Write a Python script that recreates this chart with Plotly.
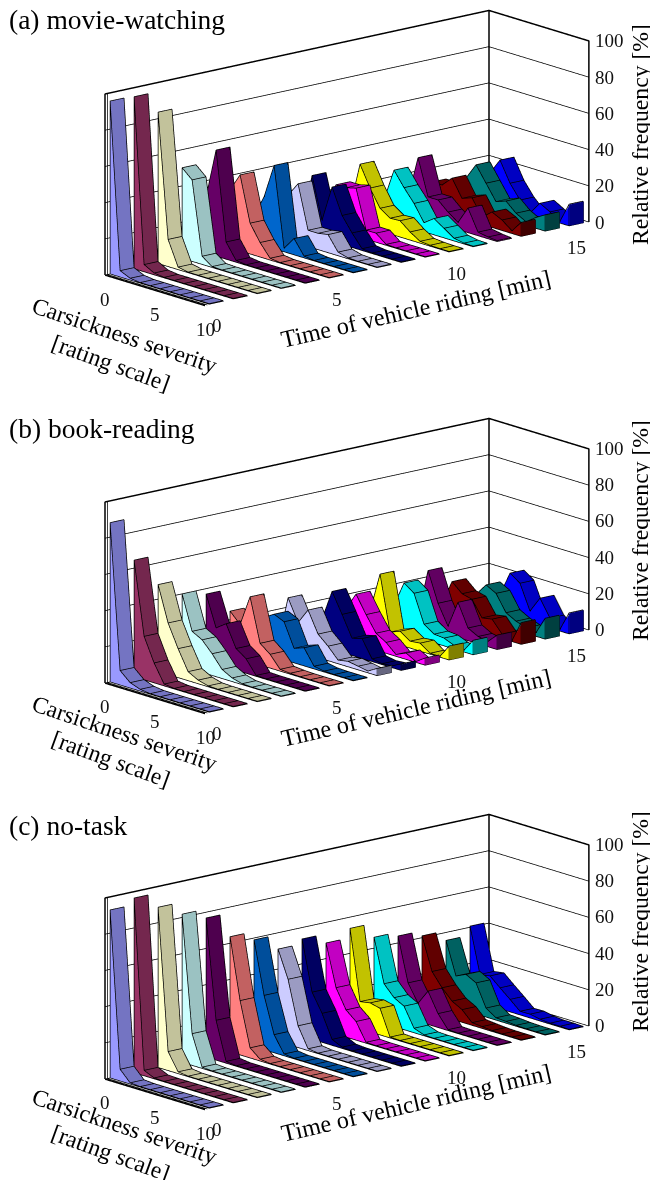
import plotly.graph_objects as go

SEVERITY = list(range(11))
TIME_SLOTS = 16
Z_TICKS = [0, 20, 40, 60, 80, 100]
SEV_TICKS = [0, 5, 10]
TIME_TICKS = [0, 5, 10, 15]
SERIES_COLORS = ["#9999FF", "#993366", "#FFFFCC", "#CCFFFF", "#660066", "#FF8080", "#0066CC", "#CCCCFF",
                 "#000080", "#FF00FF", "#FFFF00", "#00FFFF", "#800080", "#800000", "#008080", "#0000FF"]

MOVIE = [
 [95.5, 3.5, 1, .3, .3, .3, .3, .3, .3, .3, .3],
 [95, 4, 1, .3, .3, .3, .3, .3, .3, .3, .3],
 [83.6, 15, 1.4, .3, .3, .3, .3, .3, .3, .3, .3],
 [50, 45, 4.5, .5, .3, .3, .3, .3, .3, .3, .3],
 [31, 58.6, 9.5, 1, .3, .3, .3, .3, .3, .3, .3],
 [32, 42, 17, 8, 1, .3, .3, .3, .3, .3, .3],
 [15, 27, 46, 2, 9, 1, .3, .3, .3, .3, .3],
 [12, 25, 33, 9, 9, 10, 2, .5, .3, .3, .3],
 [3, 33, 10, 30, 16, 8, 1, .3, .3, .3, .3],
 [12, 25, 25, 26.5, 5, 5, .5, .3, .3, .3, .3],
 [8, 33.5, 22, 12.5, 8.7, 9, 4.5, 1, .5, .3, .3],
 [3, 11, 29, 21, 14, 5, 9, 5.3, 1.5, .5, .3],
 [3, 9, 33, 13, 13, 8, 4, 13.6, 2, 1, .5],
 [1, 15, 15, 20.5, 11, 13, 4, 8.5, 5.8, 1.5, 7.7],
 [.5, 2.5, 16, 25, 16.5, 8, 10, 5, 2, 6, 9],
 [4, 10, 16, 24.7, 13.6, 6, .5, 7.6, 4.5, 1, 12],
]
BOOK = [
 [88, 8, 3, 1, .3, .3, .3, .3, .3, .3, .3],
 [64.4, 24, 11, 1, .3, .3, .3, .3, .3, .3, .3],
 [48, 28.5, 16, 5, 2, .5, .3, .3, .3, .3, .3],
 [40, 21, 18, 12, 5, 2, .5, .3, .3, .3, .3],
 [37, 20, 24, 12, 8, .5, .3, .3, .3, .3, .3],
 [24.7, 19, 36, 12, 7.6, 1, .5, .3, .3, .3, .3],
 [5, 20, 23.5, 21, 8, 10, 1.5, .5, .3, .3, .3],
 [1, 28, 16, 24.6, 13, 8, 2, 3, 2, 1, 4],
 [1, 5, 15, 32, 21, 9.5, 11, 1.5, .5, 1, 3.6],
 [3, 9, 18, 27.6, 18, 9.4, 6, 1, 3.5, .5, 4],
 [6, 15, 13.6, 35.8, 5.4, 7.6, 3.8, 4.4, .5, .5, 7.7],
 [1, 3, 14, 28, 24, 8.6, 4.8, 4.3, 2, 1, 8],
 [.5, 1, 5, 32, 15.6, 4.6, 19.5, 7, 4, 3, 8],
 [.5, 1.5, 9, 23, 18, 16.6, 8, 9, 2.4, .5, 12],
 [3, 7, 10, 13, 20, 17, 8, 5, 3, 2, 11.5],
 [1, 2, 5, 10, 23.6, 19.7, 6, 14.8, 5.5, 1, 11.6],
]
NOTASK = [
 [92.8, 6.5, .7, .3, .3, .3, .3, .3, .3, .3, .3],
 [96.5, 3, .5, .3, .3, .3, .3, .3, .3, .3, .3],
 [88.5, 10.5, 1, .3, .3, .3, .3, .3, .3, .3, .3],
 [81.8, 17.5, .7, .3, .3, .3, .3, .3, .3, .3, .3],
 [76.8, 22, 1, .3, .3, .3, .3, .3, .3, .3, .3],
 [63.6, 30, 5.6, 1, .3, .3, .3, .3, .3, .3, .3],
 [59, 30, 10, 1, .3, .3, .3, .3, .3, .3, .3],
 [51, 36, 12, 1, .3, .3, .3, .3, .3, .3, .3],
 [53.7, 26, 16, 3.3, .7, .3, .3, .3, .3, .3, .3],
 [48.6, 25.6, 15, 10.3, .5, .3, .3, .3, .3, .3, .3],
 [53.8, 15, 16, 14.7, .5, .3, .3, .3, .3, .3, .3],
 [46, 22, 16, 13, 2.5, .5, .3, .3, .3, .3, .3],
 [43.8, 19.6, 10, 18.4, 7.7, .5, .3, .3, .3, .3, .3],
 [41, 23, 15.7, 10, 7, 1.5, 1, .5, .3, .3, .3],
 [35.6, 17.6, 20.2, 17.2, 5, 1.3, 1, .5, .3, .3, .3],
 [40.6, 15.6, 16.5, 11.6, 6.9, 2, 2.1, 1, .5, .5, .3],
]
# title, table, scene, box centre y, title y, and label centre y positions
PANELS = [
 ("(a) movie-watching", MOVIE, "scene", 158.0, 20, 335, 363, 309, 135),
 ("(b) book-reading", BOOK, "scene2", 565.5, 428, 733, 759, 707, 531),
 ("(c) no-task", NOTASK, "scene3", 961.5, 825, 1126, 1152.5, 1102, 922),
]

W, H = 650, 1180
DEPTH = (0.21, 0.79)   # slab extent within one time slot
FONT = "Liberation Serif"
TOP_SHADE, END_SHADE = 0.76, 0.5
HALF_H = 158
CX = 347
ZOOM = 3.18
ASPECT = dict(x=0.3084 * ZOOM, y=1.0 * ZOOM, z=0.373 * ZOOM)
VIEW = (0.7383, -0.6234, 0.2577)
EYE_R = 6
# edge lines sit a hair towards the viewer so they win the depth test against their own faces
NUDGE = 0.012
DX = VIEW[0] * NUDGE * 10 / ASPECT["x"]
DY = VIEW[1] * NUDGE * 16 / ASPECT["y"]
DZ = VIEW[2] * NUDGE * 100 / ASPECT["z"]


def shade(hex_color, f):
    r, g, b = (int(hex_color[i:i + 2], 16) for i in (1, 3, 5))
    return f"rgb({round(r * f)},{round(g * f)},{round(b * f)})"


def slab(values, slot, color):
    t0, t1 = slot + DEPTH[0], slot + DEPTH[1]
    xs, ys, zs, ii, jj, kk, fc = [], [], [], [], [], [], []
    lx, ly, lz = [], [], []

    def vert(x, y, z):
        xs.append(x); ys.append(y); zs.append(z)
        return len(xs) - 1

    def quad(a, b, c, d, col):
        ia, ib, ic, id_ = vert(*a), vert(*b), vert(*c), vert(*d)
        ii.extend([ia, ia]); jj.extend([ib, ic]); kk.extend([ic, id_]); fc.extend([col, col])

    def line(*pts):
        for p in pts:
            lx.append(min(p[0] + DX, SEVERITY[-1])); ly.append(p[1] + DY); lz.append(p[2] + DZ)
        lx.append(None); ly.append(None); lz.append(None)

    wall, top, end = color, shade(color, TOP_SHADE), shade(color, END_SHADE)
    for k in range(len(SEVERITY) - 1):
        s0, s1 = SEVERITY[k], SEVERITY[k + 1]
        v0, v1 = values[k], values[k + 1]
        quad((s0, t0, 0), (s1, t0, 0), (s1, t0, v1), (s0, t0, v0), wall)
        quad((s0, t0, v0), (s1, t0, v1), (s1, t1, v1), (s0, t1, v0), top)
    last = SEVERITY[-1], values[-1]
    quad((last[0], t0, 0), (last[0], t1, 0), (last[0], t1, last[1]), (last[0], t0, last[1]), end)

    line(*[(s, t0, v) for s, v in zip(SEVERITY, values)])
    line(*[(s, t1, v) for s, v in zip(SEVERITY, values)])
    line((SEVERITY[0], t0, 0), (SEVERITY[-1], t0, 0), (SEVERITY[-1], t1, 0), (SEVERITY[-1], t1, last[1]))
    line((SEVERITY[0], t0, 0), (SEVERITY[0], t0, values[0]), (SEVERITY[0], t1, values[0]))
    line((SEVERITY[-1], t0, 0), (SEVERITY[-1], t0, last[1]))
    for s, v in zip(SEVERITY, values):
        line((s, t0, v), (s, t1, v))
    mesh = go.Mesh3d(x=xs, y=ys, z=zs, i=ii, j=jj, k=kk, facecolor=fc, flatshading=True,
                     lighting=dict(ambient=1, diffuse=0, specular=0, fresnel=0),
                     hoverinfo="skip", showscale=False)
    return mesh, lx, ly, lz


def frame_lines():
    s_max, t_max = SEVERITY[-1], TIME_SLOTS
    z_max = Z_TICKS[-1]
    thick = [(0, 0, 0), (0, 0, z_max), (0, t_max, z_max), (s_max, t_max, z_max), (s_max, t_max, 0)]
    post = [(0, t_max, 0), (0, t_max, z_max)]
    floor = [(0, 0, 0), (s_max, 0, 0)]
    return thick, post, floor


def path_trace(paths, width, scene):
    x, y, z = [], [], []
    for p in paths:
        for q in p:
            x.append(q[0]); y.append(q[1]); z.append(q[2])
        x.append(None); y.append(None); z.append(None)
    return go.Scatter3d(x=x, y=y, z=z, mode="lines", line=dict(color="black", width=width),
                        hoverinfo="skip", showlegend=False, scene=scene)


fig = go.Figure()
layout_extra = {}
annotations = []
hidden = dict(visible=False, showgrid=False, zeroline=False, showline=False, showticklabels=False,
              showbackground=False, showspikes=False, title="")


def add(text, px, py, size, angle=0, xanchor="center"):
    annotations.append(dict(text=text, x=px / W, y=1 - py / H, xref="paper", yref="paper", showarrow=False,
                            xanchor=xanchor, yanchor="middle", textangle=angle,
                            font=dict(family=FONT, size=size, color="black")))


for title, table, scene, cy, ty, sev_y, scale_y, time_y, rel_y in PANELS:
    lx, ly, lz = [], [], []
    for slot, values in enumerate(table):
        mesh, a, b, c = slab(values, slot, SERIES_COLORS[slot])
        mesh.scene = scene
        fig.add_trace(mesh)
        lx += a; ly += b; lz += c
    fig.add_trace(go.Scatter3d(x=lx, y=ly, z=lz, mode="lines", line=dict(color="#000000", width=1.5),
                               hoverinfo="skip", showlegend=False, scene=scene))
    thick, post, floor = frame_lines()
    grid = []
    for z in Z_TICKS:
        if z < Z_TICKS[-1]:
            grid.append([(0, 0, z), (0, TIME_SLOTS, z), (SEVERITY[-1], TIME_SLOTS, z)])
    plate = [[(0, 0.1, 0), (0, 0.1, Z_TICKS[-1])], [(0, 0.1, 0), (SEVERITY[-1], 0.1, 0)]]
    fig.add_trace(path_trace(grid + plate, 1.5, scene))
    fig.add_trace(path_trace([thick, post, floor], 3, scene))

    scene_anns = []
    tick_font = dict(family=FONT, size=19, color="#111111")
    for z in Z_TICKS:
        scene_anns.append(dict(x=SEVERITY[-1], y=TIME_SLOTS, z=z, text=str(z), showarrow=False, xanchor="left",
                               yanchor="middle", xshift=4, font=tick_font))
    for s in SEV_TICKS:
        scene_anns.append(dict(x=s, y=0, z=0, text=str(s), showarrow=False, xanchor="center",
                               yanchor="middle", yshift=-24, font=tick_font))
    for t in TIME_TICKS:
        scene_anns.append(dict(x=SEVERITY[-1], y=t + 0.5, z=0, text=str(t), showarrow=False, xanchor="center",
                               yanchor="middle", yshift=-23, font=tick_font))
    layout_extra[scene] = dict(
        domain=dict(x=[(CX - 303) / W, (CX + 303) / W],
                    y=[1 - (cy + HALF_H) / H, 1 - (cy - HALF_H) / H]),
        xaxis=dict(range=[SEVERITY[0], SEVERITY[-1]], **hidden),
        yaxis=dict(range=[0, TIME_SLOTS], **hidden),
        zaxis=dict(range=[0, Z_TICKS[-1]], **hidden),
        aspectmode="manual",
        aspectratio=ASPECT,
        camera=dict(projection=dict(type="orthographic"),
                    center=dict(x=0, y=0, z=0), up=dict(x=0, y=0, z=1),
                    eye=dict(x=VIEW[0] * EYE_R, y=VIEW[1] * EYE_R, z=VIEW[2] * EYE_R)),
        annotations=scene_anns,
        bgcolor="white",
    )

    add(title, 7, ty, 27.5, 0, "left")
    add("Carsickness severity", 124, sev_y, 23.6, 18.5)
    add("[rating scale]", 111, scale_y, 23.6, 20)
    add("Time of vehicle riding [min]", 416, time_y, 24.2, -13)
    add("Relative frequency [%]", 640, rel_y, 23.7, -90)

fig.update_layout(width=W, height=H, margin=dict(l=0, r=0, t=0, b=0), paper_bgcolor="white",
                  showlegend=False, annotations=annotations, **layout_extra)
fig.write_html("out.html", config=dict(displayModeBar=False),
               post_script="document.body.style.margin='0';")
